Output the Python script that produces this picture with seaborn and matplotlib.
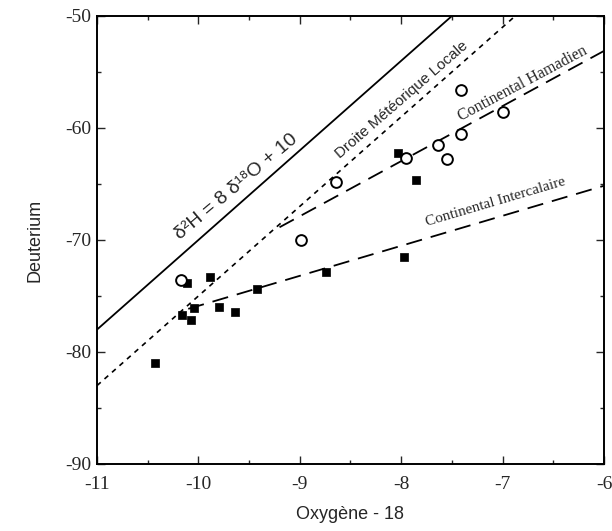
import seaborn as sns
import numpy as np
import matplotlib.pyplot as plt
import pandas as pd

# open circles (Continental Hamadien / CT samples)
circ_o18 = [-10.17, -8.99, -8.64, -7.95, -7.64, -7.55, -7.41, -7.41, -7.00]
circ_d = [-73.6, -70.0, -64.85, -62.7, -61.5, -62.75, -60.5, -56.6, -58.6]

# filled squares (Continental Intercalaire)
sq_o18 = [-10.43, -10.16, -10.11, -10.07, -10.04, -9.89, -9.80, -9.64, -9.42,
          -8.74, -8.03, -7.97, -7.85]
sq_d = [-81.0, -76.7, -73.8, -77.1, -76.1, -73.3, -76.0, -76.4, -74.35,
        -72.85, -62.2, -71.5, -64.6]

# reference lines: slope, intercept, x range
gmwl = (8.0, 10.0, [-11.0, -7.5])
lmwl = (8.0, 5.0, [-11.0, -6.875])
hamadien = (4.92, -23.6, [-9.2, -6.0])
intercalaire = (2.68, -49.08, [-10.1, -6.0])

sns.set_style('ticks')
plt.rcParams['font.family'] = ['Liberation Serif', 'DejaVu Serif']
plt.rcParams['axes.unicode_minus'] = False
plt.rcParams['xtick.direction'] = 'in'
plt.rcParams['ytick.direction'] = 'in'

fig = plt.figure(figsize=(6.12, 5.31), dpi=100)
ax = fig.add_axes([0.1585, 0.1262, 0.8284, 0.8437])


def draw_line(spec, **kw):
    a, b, xr = spec
    xs = np.array(xr)
    sns.lineplot(x=xs, y=a * xs + b, ax=ax, color='black', **kw)


draw_line(gmwl, linewidth=1.3)
draw_line(lmwl, linewidth=1.2, linestyle=(0, (3, 3)))
draw_line(hamadien, linewidth=1.3, linestyle=(0, (9, 5)))
draw_line(intercalaire, linewidth=1.3, linestyle=(0, (9, 5)))

sns.scatterplot(x=sq_o18, y=sq_d, ax=ax, marker='s', s=32, color='black',
                edgecolor='black', linewidth=0.5, zorder=3)
sns.scatterplot(x=circ_o18, y=circ_d, ax=ax, marker='o', s=60,
                facecolor='white', edgecolor='black', linewidth=1.4, zorder=4)

sans = ['Liberation Sans', 'DejaVu Sans']
ax.text(-9.63, -65.3, 'δ²H = 8 δ¹⁸O + 10', rotation=40, fontsize=14,
        family=sans, ha='center', va='center', rotation_mode='anchor')
ax.text(-7.99, -57.5, 'Droite Météorique Locale', rotation=41, fontsize=11,
        family=sans, ha='center', va='center', rotation_mode='anchor')
ax.text(-6.80, -56.0, 'Continental Hamadien', rotation=28, fontsize=11.5,
        ha='center', va='center', rotation_mode='anchor')
ax.text(-7.07, -66.6, 'Continental Intercalaire', rotation=16.5, fontsize=11,
        ha='center', va='center', rotation_mode='anchor')

ax.set_xlim(-11, -6)
ax.set_ylim(-90, -50)
ax.set_xticks([-11, -10, -9, -8, -7, -6])
ax.set_xticks(np.arange(-10.5, -6, 1.0), minor=True)
ax.set_yticks([-90, -80, -70, -60, -50])
ax.set_yticks([-85, -75, -65, -55], minor=True)
ax.tick_params(which='both', top=True, right=True, labelsize=14, width=1.0)
ax.tick_params(which='major', length=6)
ax.tick_params(which='minor', length=3)
ax.tick_params(axis='x', pad=9)
ax.tick_params(axis='y', pad=4)
for sp in ax.spines.values():
    sp.set_linewidth(1.4)
    sp.set_color('black')

ax.set_xlabel('Oxygène - 18', fontsize=13, family=sans, labelpad=9)
ax.set_ylabel('Deuterium', fontsize=13, family=sans, labelpad=16)

fig.savefig('out.png', dpi=100)
